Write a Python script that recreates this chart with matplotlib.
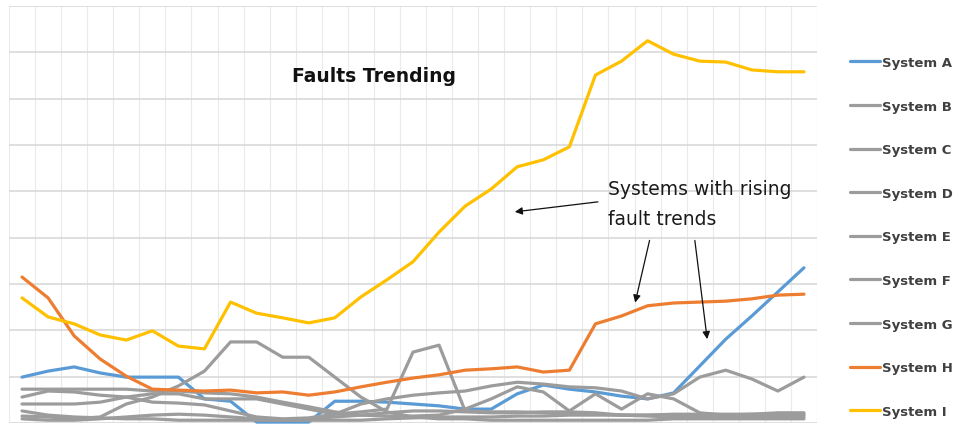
import numpy as np
import matplotlib
matplotlib.use("Agg")
import matplotlib.pyplot as plt

# fault counts per period (31 periods)
periods = list(range(31))

system_a = [9.9, 11.2, 12.1, 10.8, 9.9, 9.9, 9.9, 5.2, 4.7, 0.2, 0.2, 0.2, 4.7, 4.7, 4.5, 4.1,
            3.7, 3.0, 3.0, 6.3, 8.2, 7.3, 6.7, 5.8, 5.2, 6.5, 12.3, 18.1, 23.1, 28.3, 33.5]
system_b = [1.5, 1.3, 0.9, 1.3, 4.1, 5.6, 8.0, 11.2, 17.5, 17.5, 14.2, 14.2, 9.9, 5.6, 2.4, 1.3,
            0.9, 0.9, 0.6, 0.6, 0.6, 0.6, 0.6, 0.6, 0.6, 0.9, 0.9, 0.9, 0.9, 0.9, 0.9]
system_c = [4.1, 4.1, 4.1, 4.5, 5.6, 6.3, 6.3, 5.2, 5.2, 5.2, 4.1, 3.0, 1.9, 2.4, 3.0, 15.3,
            16.8, 2.6, 2.4, 2.4, 2.2, 1.9, 1.9, 1.7, 1.5, 1.3, 1.3, 1.3, 1.3, 1.3, 1.3]
system_d = [7.3, 7.3, 7.3, 7.3, 7.3, 6.9, 6.9, 6.5, 6.3, 5.6, 4.5, 3.5, 2.4, 1.7, 1.5, 1.5,
            1.7, 3.0, 5.2, 7.8, 6.7, 2.6, 6.3, 3.0, 6.3, 5.2, 2.2, 1.7, 1.9, 1.9, 1.9]
system_e = [0.9, 0.6, 0.6, 0.9, 1.3, 1.7, 1.9, 1.7, 1.3, 0.9, 0.6, 0.9, 1.3, 1.7, 2.2, 2.6,
            2.6, 2.4, 2.2, 2.2, 2.4, 2.4, 2.2, 1.7, 1.7, 1.7, 1.7, 1.7, 1.7, 1.7, 1.7]
system_f = [2.6, 1.7, 1.3, 1.1, 0.9, 0.9, 0.6, 0.6, 0.6, 0.6, 0.6, 0.6, 0.6, 0.6, 0.9, 1.1,
            1.3, 1.3, 1.3, 1.5, 1.5, 1.7, 1.7, 1.7, 1.7, 1.9, 1.9, 1.9, 1.9, 2.2, 2.2]
system_g = [5.6, 6.9, 6.7, 6.0, 5.6, 4.5, 4.3, 3.9, 2.6, 1.3, 0.9, 1.1, 1.9, 4.1, 5.2, 6.0,
            6.5, 6.9, 8.0, 8.8, 8.4, 7.8, 7.6, 6.9, 5.2, 6.3, 9.9, 11.4, 9.5, 6.9, 9.9]
system_h = [31.5, 27.0, 18.8, 13.8, 10.1, 7.3, 7.1, 6.9, 7.1, 6.5, 6.7, 6.0, 6.7, 7.8, 8.8, 9.7,
            10.4, 11.4, 11.7, 12.1, 11.0, 11.4, 21.4, 23.1, 25.3, 25.9, 26.1, 26.3, 26.8, 27.6, 27.8]
system_i = [27.0, 22.9, 21.4, 19.0, 17.9, 19.9, 16.6, 16.0, 26.1, 23.7, 22.7, 21.6, 22.7, 27.2, 30.9, 34.8,
            41.2, 46.8, 50.5, 55.3, 56.8, 59.6, 75.1, 78.1, 82.5, 79.6, 78.1, 77.9, 76.2, 75.8, 75.8]

labels = ["System A", "System B", "System C", "System D", "System E",
          "System F", "System G", "System H", "System I"]
series = [system_a, system_b, system_c, system_d, system_e,
          system_f, system_g, system_h, system_i]

BLUE = "#5B9BD5"
GREY = "#9C9C9C"
ORANGE = "#ED7D31"
YELLOW = "#FFC000"
colors = [BLUE, GREY, GREY, GREY, GREY, GREY, GREY, ORANGE, YELLOW]

fig = plt.figure(figsize=(9.55, 4.27), dpi=100)
ax = fig.add_axes([9 / 955, 3 / 427, 808 / 955, 417 / 427])

lines = []
for vals, lab, col in zip(series, labels, colors):
    ln, = ax.plot(periods, vals, color=col, linewidth=2.3, label=lab,
                  solid_capstyle="round", solid_joinstyle="round", clip_on=False)
    lines.append(ln)

ax.set_xlim(-0.5, 30.5)
ax.set_ylim(0, 90)
ax.set_xticks(np.arange(-0.5, 31, 1))
ax.set_yticks(np.arange(0, 91, 10))
ax.tick_params(length=0, labelleft=False, labelbottom=False)
ax.xaxis.grid(True, color="#EAEAEA", linewidth=0.8)
ax.yaxis.grid(True, color="#D9D9D9", linewidth=1.2)
ax.set_axisbelow(True)
for s in ax.spines.values():
    s.set_visible(False)

ax.text(13.5, 75.0, "Faults Trending", fontsize=13.5, fontweight="bold",
        ha="center", va="center", color="#111111")

ax.text(22.5, 47.3, "Systems with rising\nfault trends", fontsize=13.5,
        ha="left", va="center", color="#1a1a1a", linespacing=1.75)

arrow = dict(arrowstyle="-|>", color="#111111", lw=0.9, mutation_scale=11)
ax.annotate("", xy=(18.8, 45.5), xytext=(22.2, 47.8), arrowprops=arrow)
ax.annotate("", xy=(23.5, 25.4), xytext=(24.1, 40.0), arrowprops=arrow)
ax.annotate("", xy=(26.3, 17.5), xytext=(25.8, 40.0), arrowprops=arrow)

fig.legend(handles=lines, loc="upper left", bbox_to_anchor=(850 / 955, 1 - 57 / 427),
           frameon=False, handlelength=2.3, handletextpad=0.15,
           labelspacing=2.32, borderpad=0, borderaxespad=0,
           prop={"weight": "bold", "size": 9.5}, labelcolor="#404040")

fig.savefig("out.png", dpi=100)
